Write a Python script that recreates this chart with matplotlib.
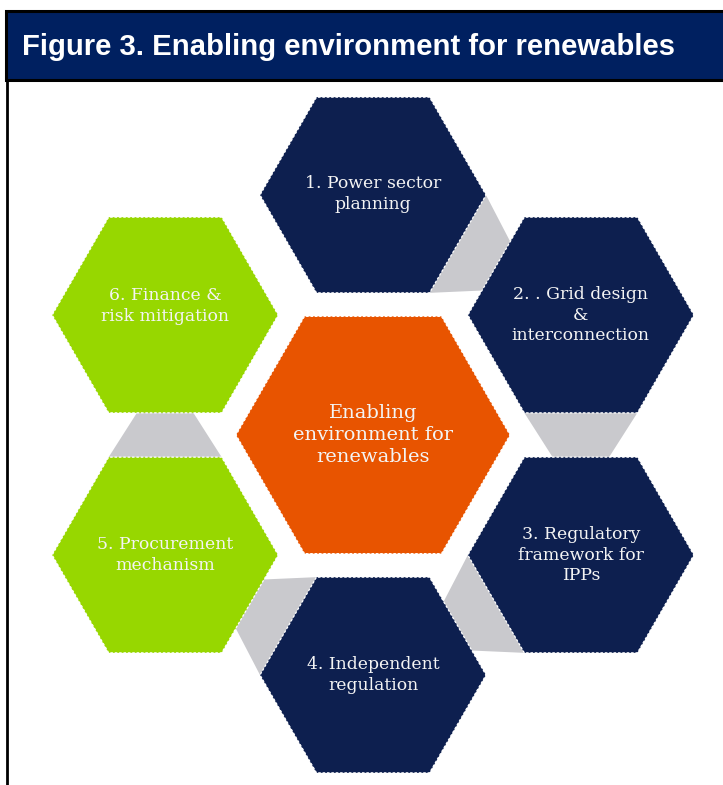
import numpy as np
import matplotlib
matplotlib.use("Agg")
import matplotlib.pyplot as plt
from matplotlib.patches import RegularPolygon, Polygon, Rectangle

# ---------------- data ----------------
title = "Figure 3. Enabling environment for renewables"
center_label = "Enabling\nenvironment for\nrenewables"
labels = ["1. Power sector\nplanning",
          "2. . Grid design\n&\ninterconnection",
          "3. Regulatory\nframework for\nIPPs",
          "4. Independent\nregulation",
          "5. Procurement\nmechanism",
          "6. Finance &\nrisk mitigation"]
angles_deg = [90, 30, -30, -90, -150, 150]
groups = ["navy", "navy", "navy", "navy", "green", "green"]
connections = [(0, 1), (1, 2), (2, 3), (3, 4), (4, 5)]
label_dy = [-1, 0, 0, 0, 0, -9]

# ---------------- style ----------------
W, H = 723, 785
NAVY = "#0d1f4f"
GREEN = "#97d700"
ORANGE = "#e85400"
GREY = "#c9c9cd"
TITLE_BG = "#002060"
TXT = "#f4f4f4"
colmap = {"navy": NAVY, "green": GREEN}

cx, cy = 373, 435
ring = 240
R_out = 113
R_in = 137

fig = plt.figure(figsize=(W / 100, H / 100), dpi=100)
ax = fig.add_axes([0, 0, 1, 1])
ax.set_xlim(0, W)
ax.set_ylim(H, 0)
ax.axis("off")

# title bar
ax.add_patch(Rectangle((6, 11), W + 20, 69, facecolor=TITLE_BG,
                       edgecolor="black", lw=2.2, zorder=5))
ax.text(22, 47, title, color="white", fontsize=21.1, fontweight="bold",
        family="Liberation Sans", ha="left", va="center", zorder=6)
# left frame line
ax.plot([7, 7], [80, H + 5], color="black", lw=2, zorder=5,
        solid_capstyle="butt")

centers = []
for a in angles_deg:
    t = np.deg2rad(a)
    centers.append((cx + ring * np.cos(t), cy - ring * np.sin(t)))

apo = R_out * np.sqrt(3) / 2
# connectors (trapezoids, long base at source hex, short base at destination)
for s, d in connections:
    cs = np.array(centers[s])
    cd = np.array(centers[d])
    dist = np.linalg.norm(cd - cs)
    u = (cd - cs) / dist
    v = np.array([-u[1], u[0]])
    p_long = cs + apo * u
    p_short = cs + (dist - apo) * u
    pts = [p_long + v * R_out / 2, p_short + v * R_out / 4,
           p_short - v * R_out / 4, p_long - v * R_out / 2]
    ax.add_patch(Polygon(pts, closed=True, facecolor=GREY,
                         edgecolor="none", zorder=1))

dash = (0, (2.0, 1.5))
for (x, y), lab, g, dy in zip(centers, labels, groups, label_dy):
    ax.add_patch(RegularPolygon((x, y), 6, radius=R_out,
                                orientation=np.pi / 6,
                                facecolor=colmap[g], edgecolor="white",
                                lw=0.9, linestyle=dash, zorder=2))
    ax.text(x, y + dy, lab, color=TXT, fontsize=12.4, family="DejaVu Serif",
            ha="center", va="center", linespacing=1.3, zorder=3)

ax.add_patch(RegularPolygon((cx, cy), 6, radius=R_in,
                            orientation=np.pi / 6,
                            facecolor=ORANGE, edgecolor="white",
                            lw=0.9, linestyle=dash, zorder=2))
ax.text(cx, cy, center_label, color=TXT, fontsize=14, family="DejaVu Serif",
        ha="center", va="center", linespacing=1.25, zorder=3)

fig.savefig("out.png", dpi=100, facecolor="white")
